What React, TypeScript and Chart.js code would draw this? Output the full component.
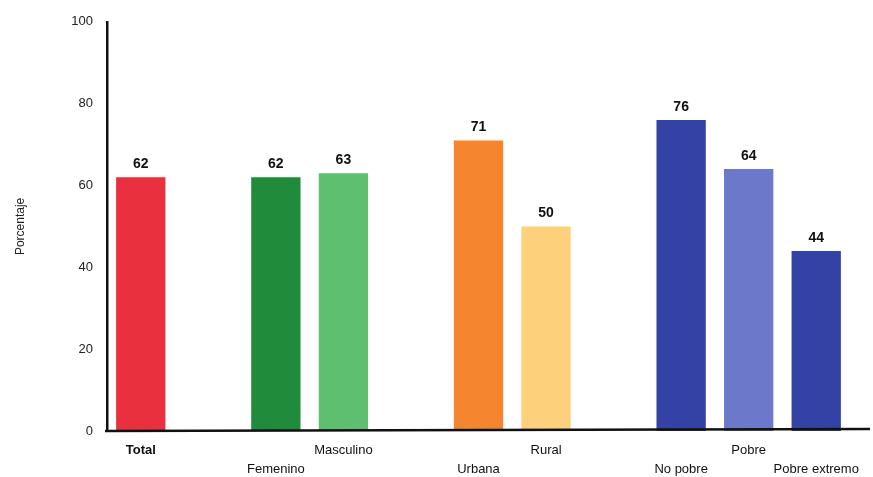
import React, { useEffect, useRef } from "react";
import { Chart, registerables } from "chart.js";

Chart.register(...registerables);

const categories: (string[])[] = [
  ["Total", ""],
  ["", ""],
  ["", "Femenino"],
  ["Masculino", ""],
  ["", ""],
  ["", "Urbana"],
  ["Rural", ""],
  ["", ""],
  ["", "No pobre"],
  ["Pobre", ""],
  ["", "Pobre extremo"],
];
const values: (number | null)[] = [62, null, 62, 63, null, 71, 50, null, 76, 64, 44];
const barColors: string[] = [
  "#E9303E", "#ffffff", "#1F8B3B", "#5DBF6F", "#ffffff",
  "#F5862F", "#FDD07C", "#ffffff", "#3442A6", "#6C79CB", "#3442A6",
];
const yTicks: number[] = [0, 20, 40, 60, 80, 100];
const yTitle = "Porcentaje";

const FONT = "'Liberation Sans', Arial, sans-serif";

const valueLabels = {
  id: "valueLabels",
  afterDatasetsDraw(chart: any) {
    const ctx = chart.ctx;
    const meta = chart.getDatasetMeta(0);
    ctx.save();
    ctx.fillStyle = "#111";
    ctx.font = `bold 14px ${FONT}`;
    ctx.textAlign = "center";
    ctx.textBaseline = "bottom";
    meta.data.forEach((el: any, i: number) => {
      const v = values[i];
      if (v == null) return;
      ctx.fillText(String(v), el.x, el.y - 6);
    });
    ctx.restore();
  },
  afterDraw(chart: any) {
    const ctx = chart.ctx;
    const { left, bottom } = chart.chartArea;
    ctx.save();
    ctx.strokeStyle = "#111";
    ctx.lineWidth = 2.5;
    ctx.beginPath();
    ctx.moveTo(left - 2, bottom);
    ctx.lineTo(870, bottom - 2);
    ctx.stroke();
    ctx.restore();
  },
};

export default function App() {
  const ref = useRef<HTMLCanvasElement | null>(null);
  useEffect(() => {
    document.body.style.margin = "0";
    if (!ref.current) return;
    const chart = new Chart(ref.current, {
      type: "bar",
      data: {
        labels: categories as any,
        datasets: [
          {
            data: values,
            backgroundColor: barColors,
            borderWidth: 0,
            barPercentage: 0.73,
            categoryPercentage: 1,
          },
        ],
      },
      options: {
        responsive: false,
        animation: false,
        devicePixelRatio: 1,
        layout: { padding: { top: 16, right: 23, left: 0, bottom: 0 } },
        plugins: { legend: { display: false }, tooltip: { enabled: false } },
        scales: {
          x: {
            grid: { display: false },
            border: { display: false },
            ticks: {
              autoSkip: false,
              maxRotation: 0,
              minRotation: 0,
              padding: 2,
              color: "#111",
              font: (c: any) => ({
                family: FONT,
                size: 13,
                weight: c.index === 0 ? "bold" : "normal",
                lineHeight: 1.45,
              }),
            },
            afterFit: (s: any) => {
              s.height = 46;
            },
          },
          y: {
            min: 0,
            max: 100,
            grid: { display: false, drawTicks: false },
            border: { display: true, color: "#111", width: 2.5 },
            afterBuildTicks: (s: any) => {
              s.ticks = yTicks.map((v) => ({ value: v }));
            },
            ticks: {
              padding: 14,
              color: "#222",
              font: { family: FONT, size: 13 },
            },
            title: {
              display: true,
              text: yTitle,
              color: "#222",
              font: { family: FONT, size: 12 },
              padding: { top: 13, bottom: 0 },
            },
            afterFit: (s: any) => {
              s.width = 107;
            },
          },
        },
      },
      plugins: [valueLabels],
    });
    return () => chart.destroy();
  }, []);
  return <canvas ref={ref} width={873} height={477} style={{ display: "block" }} />;
}
